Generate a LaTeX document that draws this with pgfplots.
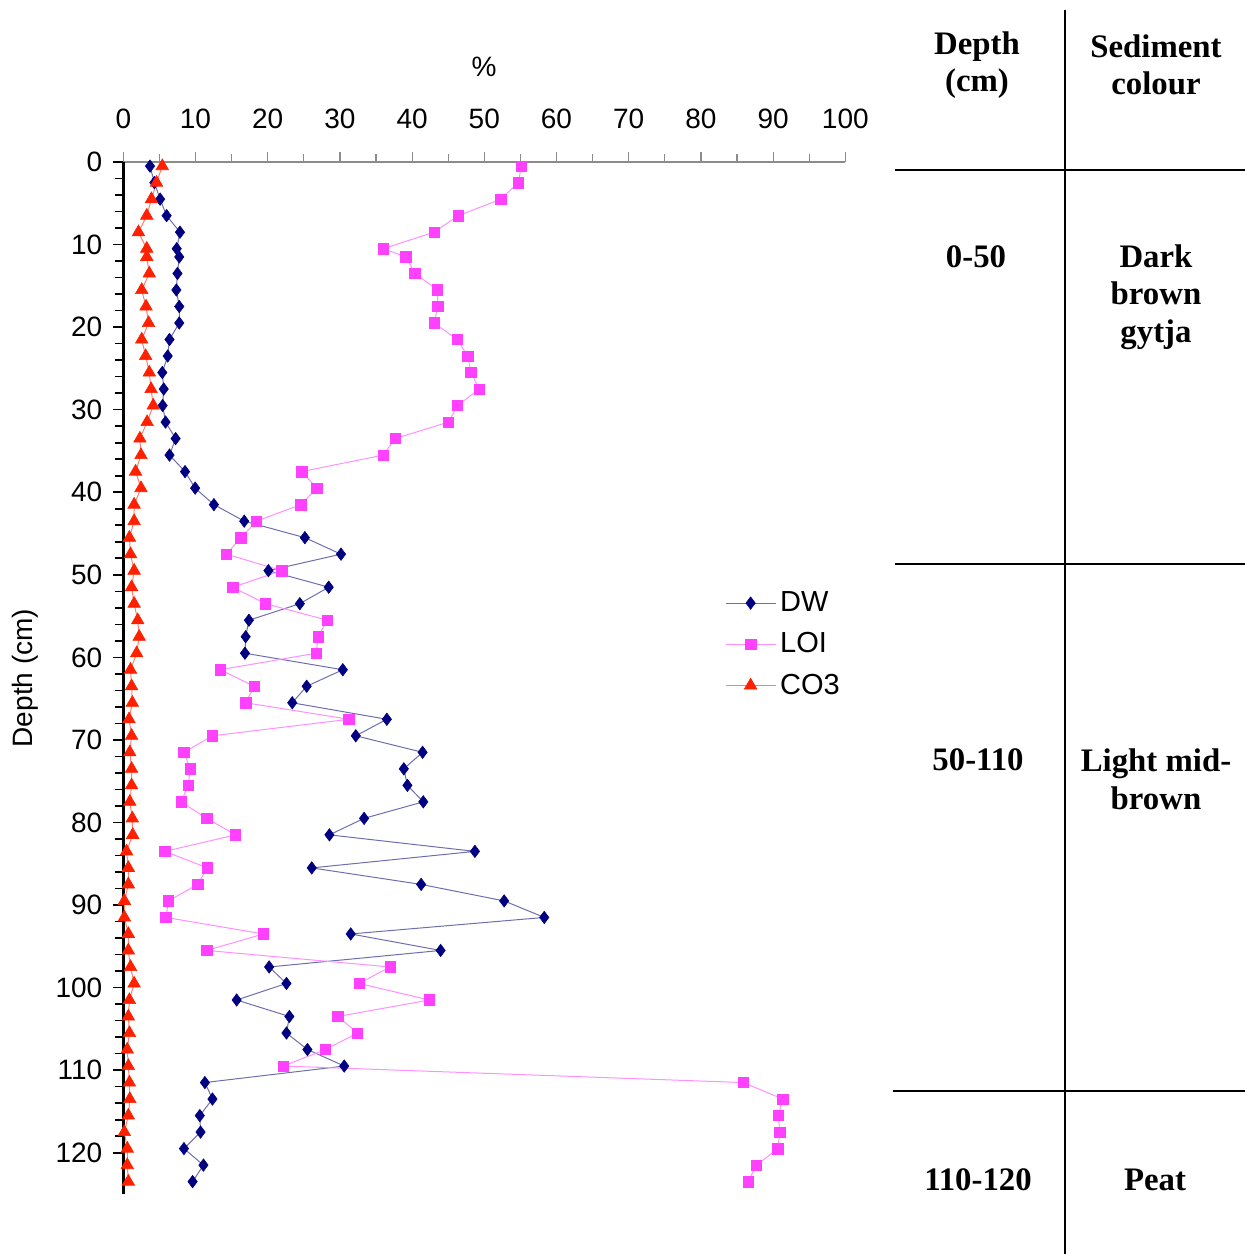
\documentclass[border=0pt]{standalone}
\usepackage{pgfplots}
\pgfplotsset{compat=1.18}
\usepackage{pgfplotstable}
\usepackage{fontspec}
\setmainfont{Liberation Sans}
\newfontfamily\tablefont{Liberation Serif}
\definecolor{dwmark}{HTML}{000080}
\definecolor{dwline}{HTML}{6E6EAE}
\definecolor{loimark}{HTML}{FF40FF}
\definecolor{loiline}{HTML}{FF90FF}
\definecolor{comark}{HTML}{FF2000}
\definecolor{coline}{HTML}{FF8070}

\pgfplotstableread{
d dw loi co
0.5 3.7 55.15 5.4
2.5 4.3 54.7 4.6
4.5 5.1 52.3 3.9
6.5 6.0 46.4 3.25
8.5 7.85 43.05 2.1
10.5 7.4 36.0 3.25
11.5 7.75 39.15 3.25
13.5 7.5 40.4 3.6
15.5 7.35 43.5 2.55
17.5 7.75 43.55 3.15
19.5 7.75 43.05 3.5
21.5 6.4 46.25 2.55
23.5 6.15 47.7 3.1
25.5 5.4 48.15 3.6
27.5 5.6 49.3 3.85
29.5 5.45 46.3 4.15
31.5 5.85 45.05 3.3
33.5 7.25 37.65 2.3
35.5 6.4 36.0 2.45
37.5 8.55 24.7 1.7
39.5 9.95 26.8 2.45
41.5 12.55 24.6 1.5
43.5 16.75 18.45 1.5
45.5 25.15 16.3 0.85
47.5 30.15 14.3 1.0
49.5 20.1 21.95 1.5
51.5 28.45 15.15 1.15
53.5 24.45 19.7 1.5
55.5 17.4 28.25 2.0
57.5 16.95 27.0 2.2
59.5 16.85 26.7 1.85
61.5 30.4 13.4 1.0
63.5 25.4 18.15 1.15
65.5 23.4 16.95 1.25
67.5 36.5 31.25 0.8
69.5 32.2 12.35 1.15
71.5 41.45 8.4 0.9
73.5 38.85 9.25 1.15
75.5 39.35 9.0 1.15
77.5 41.55 8.0 0.9
79.5 33.35 11.55 1.25
81.5 28.55 15.55 1.3
83.5 48.7 5.75 0.45
85.5 26.1 11.65 0.7
87.5 41.25 10.3 0.7
89.5 52.75 6.25 0.15
91.5 58.3 5.9 0.15
93.5 31.5 19.4 0.7
95.5 43.95 11.55 0.7
97.5 20.2 36.95 1.0
99.5 22.6 32.65 1.5
101.5 15.7 42.4 0.85
103.5 23.0 29.7 0.7
105.5 22.6 32.45 0.85
107.5 25.5 28.0 0.55
109.5 30.6 22.15 0.7
111.5 11.3 85.85 0.85
113.5 12.35 91.35 0.9
115.5 10.6 90.7 0.7
117.5 10.7 90.95 0.15
119.5 8.4 90.65 0.55
121.5 11.1 87.7 0.55
123.5 9.6 86.55 0.7
}\datatable

\begin{document}
\begin{tikzpicture}[x=1pt,y=1pt]
\useasboundingbox (0,0) rectangle (622.5,627);
\begin{axis}[
  at={(61.65pt,30pt)}, anchor=south west,
  width=361pt, height=516pt, scale only axis,
  xmin=0, xmax=100, ymin=0, ymax=125, y dir=reverse,
  axis x line*=top, axis y line*=left,
  x axis line style={draw=black!45, line width=0.6pt, -},
  y axis line style={draw=black, line width=1.2pt, -},
  xtick={0,10,...,100}, minor x tick num=1,
  ytick={0,10,...,120}, minor y tick num=4,
  tick align=outside,
  major tick length=5pt, minor tick length=4pt,
  x tick style={draw=black!45, line width=0.6pt},
  y tick style={draw=black, line width=0.8pt},
  /pgf/number format/assume math mode=true,
  tick label style={font=\fontsize{14}{16}\selectfont},
  xticklabel style={yshift=8pt},
  yticklabel style={xshift=-2pt},
  clip=false,
  legend style={at={(0.833,0.588)}, anchor=north west, draw=none, fill=none,
    font=\fontsize{14.5}{16}\selectfont, row sep=5pt, inner sep=0pt},
  legend cell align=left,
  legend image code/.code={\draw[mark repeat=2,mark phase=2,#1] plot coordinates {(0pt,0pt)(12.5pt,0pt)(25pt,0pt)};},
]
\addplot[color=dwline, line width=0.5pt, mark=diamond*, mark size=3.1pt,
  mark options={draw=dwmark, fill=dwmark, line width=0.3pt}] table[x=dw, y=d] {\datatable};
\addlegendentry{DW}
\addplot[color=loiline, line width=0.5pt, mark=square*, mark size=2.6pt,
  mark options={draw=loimark, fill=loimark, line width=0.3pt}] table[x=loi, y=d] {\datatable};
\addlegendentry{LOI}
\addplot[color=coline, line width=0.5pt, mark=triangle*, mark size=3.6pt,
  mark options={draw=comark, fill=comark, line width=0.3pt}] table[x=co, y=d] {\datatable};
\addlegendentry{CO3}
\end{axis}
\node[font=\fontsize{14}{16}\selectfont] at (242,593.5) {\%};
\node[font=\fontsize{14}{16}\selectfont, rotate=90] at (12.5,288) {Depth (cm)};
% table
\draw[line width=1.3pt] (532.5,622) -- (532.5,0);
\draw[line width=1.3pt] (447.5,542) -- (622.5,542);
\draw[line width=1.3pt] (447.5,345) -- (622.5,345);
\draw[line width=1.3pt] (446.5,81.5) -- (622.5,81.5);
\begin{scope}[every node/.style={font=\tablefont\bfseries\fontsize{16.4}{18.8}\selectfont, align=center, inner sep=0pt}]
\node at (488.5,594.5) {Depth\\(cm)};
\node at (578,594.5) {Sediment\\colour};
\node at (488,498.5) {0-50};
\node at (578,478.5) {Dark\\brown\\gytja};
\node at (489,247) {50-110};
\node at (578,237.5) {Light mid-\\brown};
\node at (489,37) {110-120};
\node at (577.5,37) {Peat};
\end{scope}
\end{tikzpicture}
\end{document}
